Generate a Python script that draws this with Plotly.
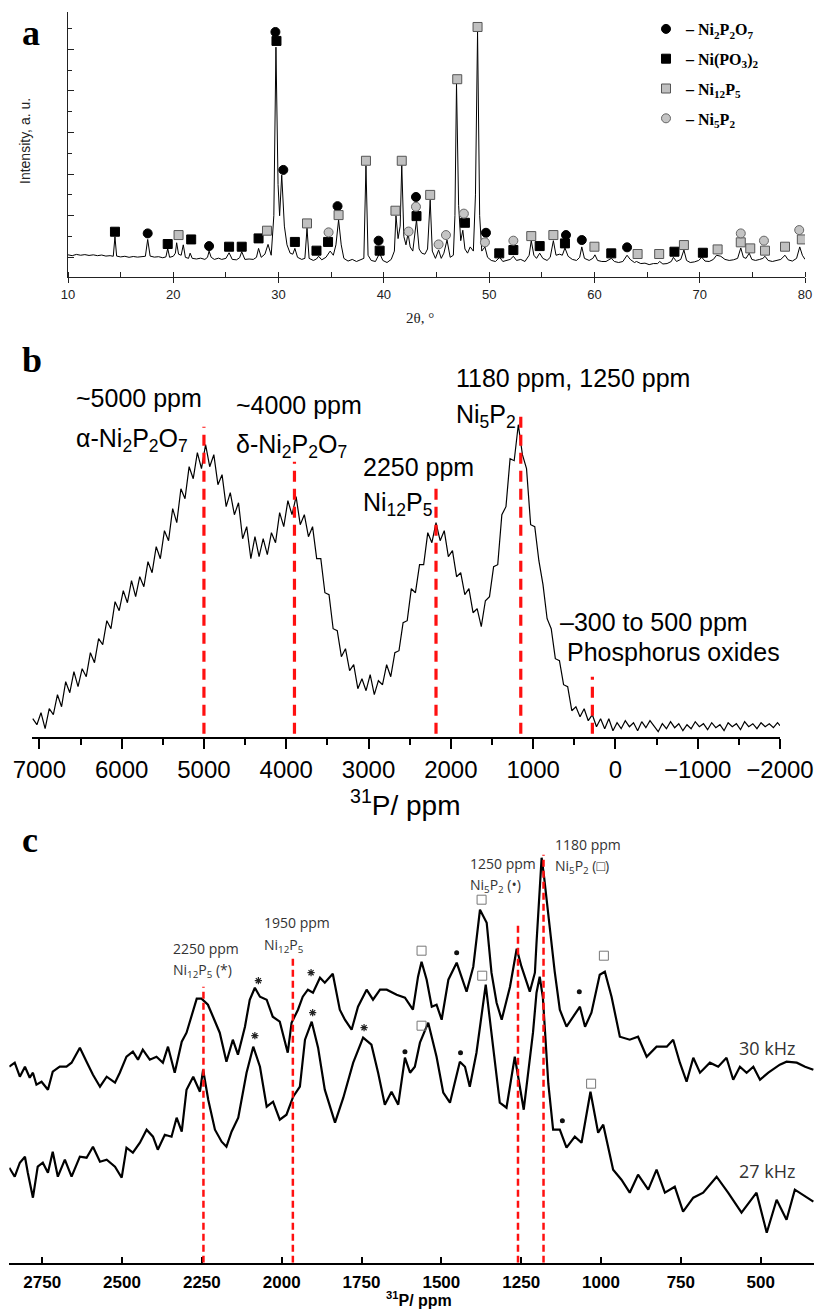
import plotly.graph_objects as go

W, H = 814, 1309

# ================= Panel a : XRD =================
xrd_2theta = [
    10.0, 10.4, 10.8, 11.2, 11.6, 12.0, 12.4, 12.8, 13.2, 13.6,
    14.0, 14.3, 14.46, 14.62, 15.0, 15.4, 15.8, 16.2, 16.6, 17.0,
    17.35, 17.57, 17.8, 18.2, 18.6, 19.0, 19.3, 19.47, 19.65, 20.0,
    20.2, 20.32, 20.5, 20.75, 20.95, 21.15, 21.45, 21.6, 21.8, 22.2,
    22.6, 23.0, 23.25, 23.4, 23.6, 23.9, 24.3, 24.6, 25.0, 25.3,
    25.6, 26.0, 26.3, 26.5, 26.8, 27.2, 27.6, 27.9, 28.1, 28.35,
    28.7, 29.0, 29.3, 29.55, 29.75, 29.95, 30.1, 30.3, 30.55, 30.8,
    31.1, 31.35, 31.55, 31.8, 32.2, 32.5, 32.7, 32.9, 33.3, 33.6,
    33.8, 34.1, 34.5, 34.9, 35.2, 35.45, 35.7, 35.95, 36.2, 36.6,
    37.0, 37.4, 37.8, 38.1, 38.3, 38.5, 38.8, 39.2, 39.6, 39.9,
    40.3, 40.7, 41.0, 41.15, 41.35, 41.55, 41.7, 41.9, 42.1, 42.3,
    42.5, 42.75, 43.1, 43.35, 43.6, 43.9, 44.15, 44.4, 44.6, 44.9,
    45.2, 45.45, 45.7, 46.0, 46.3, 46.6, 46.75, 46.9, 47.1, 47.3,
    47.5, 47.7, 47.95, 48.2, 48.5, 48.7, 48.9, 49.1, 49.3, 49.6,
    49.85, 50.2, 50.6, 51.0, 51.3, 51.7, 52.0, 52.3, 52.6, 53.0,
    53.4, 53.8, 54.0, 54.25, 54.5, 54.8, 55.1, 55.5, 55.8, 56.1,
    56.35, 56.7, 56.95, 57.2, 57.5, 57.9, 58.3, 58.6, 58.8, 59.05,
    59.5, 59.85, 60.05, 60.3, 60.7, 61.1, 61.4, 61.6, 61.9, 62.3,
    62.7, 63.1, 63.4, 63.8, 64.0, 64.4, 64.8, 65.2, 65.6, 66.0,
    66.2, 66.5, 66.9, 67.3, 67.5, 67.8, 68.2, 68.5, 68.75, 69.1,
    69.5, 69.9, 70.2, 70.5, 70.9, 71.3, 71.6, 72.0, 72.4, 72.8,
    73.2, 73.6, 73.9, 74.15, 74.4, 74.7, 74.95, 75.3, 75.7, 76.0,
    76.2, 76.5, 76.9, 77.3, 77.7, 78.1, 78.4, 78.8, 79.2, 79.5,
    79.75, 80.0,
]
xrd_intensity = [
    0.12, 0.08, 0.14, 0.10, 0.13, 0.09, 0.12, 0.08, 0.11, 0.06,
    0.08, 0.05, 0.99, 0.06, 0.02, 0.05, 0.0, 0.04, 0.01, 0.03,
    0.05, 0.86, 0.06, 0.01, 0.03, -0.02, 0.02, 0.43, 0.0, 0.05,
    0.2, 0.70, 0.15, 0.1, 0.6, 0.0, -0.05, 0.2, -0.05, -0.08,
    -0.04, -0.1, 0.0, 0.3, 0.0, -0.1, -0.04, -0.1, -0.05, 0.22,
    -0.1, -0.12, -0.02, 0.27, -0.1, -0.08, -0.1, 0.0, 0.43, 0.0,
    0.15, 0.62, 0.1, 2.0, 10.1, 3.5, 2.0, 3.95, 1.5, 0.6,
    0.2, 0.15, 0.43, 0.0, -0.1, -0.05, 1.4, -0.05, -0.15, -0.08,
    0.05, -0.12, 0.0, 0.3, 0.1, 0.6, 1.8, 0.6, -0.05, -0.18,
    -0.1, -0.2, -0.12, -0.05, 4.4, 0.1, -0.15, -0.2, 0.2, -0.15,
    -0.25, -0.1, 0.3, 2.0, 0.9, 1.5, 4.45, 1.0, 0.6, 1.15,
    0.5, 0.3, 1.8, 0.4, 0.2, 0.15, 0.4, 2.75, 0.3, -0.05,
    0.35, -0.05, 0.2, 0.83, 0.0, 0.1, 2.0, 8.35, 2.5, 0.8,
    1.3, 0.4, 0.2, 0.5, 0.3, 3.0, 10.85, 2.0, 0.3, 0.5,
    0.0, -0.15, -0.2, 0.0, -0.2, -0.15, -0.1, 0.05, -0.15, -0.1,
    -0.2, 0.1, 0.8, 0.1, -0.05, 0.2, -0.05, -0.15, 0.0, 0.8,
    0.1, 0.15, 0.1, 0.45, 0.05, -0.1, -0.15, 0.0, 0.5, -0.05,
    -0.15, -0.05, 0.12, -0.15, -0.2, -0.2, -0.1, -0.05, -0.2, -0.25,
    -0.2, 0.1, -0.1, -0.25, -0.2, -0.3, -0.28, -0.35, -0.3, -0.3,
    -0.2, -0.32, -0.3, -0.2, 0.0, -0.2, -0.1, 0.35, -0.15, -0.25,
    -0.22, -0.15, 0.0, -0.18, -0.2, -0.1, 0.1, 0.05, -0.1, -0.15,
    -0.12, -0.05, 0.45, 0.0, -0.05, 0.2, -0.1, -0.15, -0.1, -0.05,
    0.05, -0.15, -0.2, -0.15, -0.1, 0.1, -0.12, -0.18, -0.05, 0.5,
    0.1, -0.1,
]

ni2p2o7_x = [17.57, 23.4, 29.7, 30.45, 35.6, 39.5, 43.05, 49.7, 57.3, 58.8, 63.1]
ni2p2o7_y = [1.15, 0.54, 10.83, 4.2, 2.46, 0.8, 2.9, 1.18, 1.07, 0.83, 0.48]
nipo3_x = [14.46, 19.47, 21.7, 25.3, 26.5, 28.1, 29.8, 31.55, 33.6, 34.7,
           39.6, 43.1, 47.7, 50.96, 52.3, 54.8, 57.2, 61.6, 67.6, 70.3]
nipo3_y = [1.23, 0.64, 0.86, 0.51, 0.51, 0.91, 10.4, 0.74, 0.32, 0.74,
           0.32, 1.98, 1.66, 0.19, 0.35, 0.54, 0.67, 0.19, 0.27, 0.22]
ni12p5_x = [20.5, 28.9, 32.7, 35.7, 38.3, 41.1, 41.7, 44.4, 46.97, 48.9,
            54.0, 56.1, 60.0, 64.1, 66.15, 68.5, 71.7, 73.9, 74.8, 76.2,
            78.1, 79.7]
ni12p5_y = [1.07, 1.28, 1.63, 2.03, 4.64, 2.24, 4.64, 3.0, 8.56, 11.07,
            1.02, 1.07, 0.51, 0.16, 0.16, 0.59, 0.38, 0.72, 0.43, 0.32,
            0.51, 0.86]
ni5p2_x = [34.75, 42.35, 43.05, 45.2, 45.9, 47.6, 49.6, 52.3, 73.9, 76.1, 79.45]
ni5p2_y = [1.2, 1.24, 2.43, 0.62, 1.07, 2.1, 0.72, 0.8, 1.15, 0.8, 1.31]

# ================= Panel b : static 31P NMR =================
b_ppm = [
    7080, 7030, 6980, 6930, 6880, 6830, 6780, 6730, 6680, 6630,
    6580, 6530, 6480, 6430, 6380, 6330, 6280, 6230, 6180, 6130,
    6080, 6030, 5980, 5930, 5880, 5830, 5780, 5730, 5680, 5630,
    5580, 5530, 5480, 5430, 5380, 5330, 5280, 5230, 5180, 5130,
    5080, 5030, 4980, 4930, 4880, 4830, 4780, 4730, 4680, 4630,
    4580, 4530, 4480, 4430, 4380, 4330, 4280, 4230, 4180, 4130,
    4080, 4030, 3980, 3930, 3880, 3830, 3780, 3730, 3680, 3630,
    3580, 3530, 3480, 3430, 3380, 3330, 3280, 3230, 3180, 3130,
    3080, 3030, 2980, 2930, 2880, 2830, 2780, 2730, 2680, 2630,
    2580, 2530, 2480, 2430, 2380, 2330, 2280, 2230, 2180, 2130,
    2080, 2030, 1980, 1930, 1880, 1830, 1780, 1730, 1680, 1630,
    1580, 1530, 1480, 1430, 1380, 1330, 1280, 1230, 1180, 1130,
    1080, 1030, 980, 930, 880, 830, 780, 730, 680, 630,
    580, 530, 480, 430, 380, 330, 280, 230, 180, 130,
    80, 30, -20, -70, -120, -170, -220, -270, -320, -370,
    -420, -470, -520, -570, -620, -670, -720, -770, -820, -870,
    -920, -970, -1020, -1070, -1120, -1170, -1220, -1270, -1320, -1370,
    -1420, -1470, -1520, -1570, -1620, -1670, -1720, -1770, -1820, -1870,
    -1920, -1970, -2000,
]
b_intensity = [
    18, 12, 24, 8, 28, 22, 42, 30, 55, 44,
    65, 50, 68, 60, 84, 74, 98, 92, 116, 108,
    135, 126, 146, 134, 156, 140, 160, 150, 175, 164,
    190, 178, 206, 196, 228, 214, 248, 238, 270, 258,
    284, 268, 292, 270, 282, 252, 262, 230, 244, 222,
    234, 198, 210, 178, 200, 180, 198, 182, 204, 194,
    224, 210, 236, 222, 240, 212, 222, 200, 210, 178,
    178, 144, 142, 108, 106, 80, 88, 66, 72, 48,
    58, 46, 62, 42, 56, 52, 72, 60, 84, 86,
    114, 116, 148, 144, 172, 172, 204, 194, 214, 196,
    206, 180, 186, 160, 164, 142, 148, 124, 128, 110,
    136, 140, 170, 172, 222, 230, 278, 276, 312, 282,
    268, 212, 210, 176, 152, 118, 108, 78, 76, 52,
    50, 26, 30, 20, 28, 16, 22, 10, 18, 8,
    18, 6, 14, 8, 16, 10, 14, 6, 15, 9,
    16, 11, 5, 13, 8, 15, 9, 13, 6, 12,
    8, 15, 10, 13, 7, 14, 9, 12, 6, 14,
    10, 13, 7, 15, 10, 13, 8, 14, 10, 13,
    9, 14, 11,
]
b_marker_ppm = [5000, 3900, 2180, 1150, 280]
b_marker_top = [310, 275, 250, 324, 60]

# ================= Panel c : MAS 31P NMR =================
c30_ppm = [
    2853, 2836, 2820, 2804, 2789, 2779, 2768, 2752, 2732, 2717,
    2695, 2674, 2658, 2632, 2611, 2591, 2569, 2548, 2522, 2507,
    2486, 2466, 2450, 2435, 2413, 2392, 2372, 2356, 2335, 2313,
    2298, 2282, 2266, 2251, 2231, 2215, 2194, 2173, 2153, 2137,
    2115, 2100, 2084, 2068, 2047, 2028, 2006, 1981, 1969, 1949,
    1934, 1918, 1902, 1880, 1865, 1840, 1818, 1802, 1781, 1761,
    1734, 1714, 1692, 1671, 1640, 1614, 1598, 1589, 1573, 1562,
    1546, 1530, 1515, 1499, 1478, 1452, 1421, 1400, 1379, 1358,
    1343, 1327, 1311, 1285, 1264, 1249, 1223, 1207, 1202, 1194,
    1186, 1178, 1165, 1155, 1145, 1129, 1108, 1087, 1066, 1050,
    1030, 1004, 988, 967, 941, 910, 884, 857, 826, 794,
    774, 753, 732, 711, 690, 659, 633, 607, 586, 565,
    544, 523, 502, 476, 440, 419, 387, 361, 335,
]
c30_intensity = [
    196, 200, 186, 196, 185, 190, 178, 181, 173, 191,
    196, 196, 200, 215, 201, 188, 176, 186, 180, 190,
    206, 211, 203, 213, 203, 206, 200, 216, 190, 221,
    230, 246, 264, 264, 258, 246, 230, 201, 223, 208,
    236, 263, 275, 266, 263, 246, 241, 210, 240, 253,
    266, 273, 270, 285, 280, 289, 253, 243, 233, 256,
    273, 263, 273, 273, 268, 265, 258, 253, 286, 301,
    283, 256, 258, 243, 283, 300, 271, 296, 353, 340,
    290, 260, 243, 276, 314, 296, 271, 290, 320, 365,
    405, 385, 346, 318, 291, 253, 236, 246, 256, 236,
    250, 288, 291, 266, 226, 223, 226, 206, 216, 216,
    223, 200, 181, 205, 190, 200, 196, 205, 183, 196,
    190, 196, 183, 190, 198, 201, 200, 196, 193,
]
c27_ppm = [
    2853, 2836, 2820, 2804, 2795, 2779, 2764, 2748, 2732, 2717,
    2701, 2679, 2658, 2632, 2611, 2591, 2569, 2548, 2522, 2501,
    2486, 2466, 2444, 2423, 2403, 2388, 2366, 2345, 2329, 2313,
    2298, 2277, 2256, 2246, 2230, 2209, 2188, 2173, 2157, 2136,
    2110, 2089, 2068, 2047, 2027, 2006, 1985, 1964, 1943, 1927,
    1906, 1886, 1865, 1833, 1807, 1776, 1745, 1719, 1698, 1677,
    1656, 1635, 1614, 1598, 1583, 1567, 1541, 1515, 1494, 1473,
    1458, 1442, 1426, 1411, 1390, 1361, 1338, 1317, 1296, 1270,
    1242, 1213, 1202, 1192, 1182, 1172, 1165, 1150, 1129, 1108,
    1082, 1061, 1033, 1009, 993, 962, 936, 910, 884, 852,
    826, 800, 769, 743, 711, 680, 638, 602, 560, 513,
    481, 450, 419, 393, 361, 335,
]
c27_intensity = [
    95, 86, 100, 106, 90, 65, 96, 100, 90, 111,
    86, 103, 86, 106, 105, 116, 101, 103, 96, 85,
    115, 110, 120, 133, 126, 113, 128, 126, 145, 131,
    173, 186, 171, 193, 163, 133, 121, 116, 131, 145,
    190, 216, 196, 156, 161, 143, 148, 166, 176, 223,
    241, 215, 173, 140, 165, 200, 225, 218, 190, 158,
    171, 158, 205, 190, 196, 220, 240, 206, 170, 160,
    180, 201, 196, 176, 210, 278, 216, 160, 155, 206,
    153, 230, 270, 286, 265, 215, 179, 133, 133, 115,
    126, 120, 171, 130, 138, 93, 83, 70, 88, 73,
    93, 70, 76, 51, 65, 70, 86, 70, 50, 70,
    30, 63, 43, 73, 66, 61,
]
c_star_ppm = [2073, 1908, 2084, 1903, 1742]
c_star_int = [282, 290, 227, 250, 235]
c_dot_ppm = [1452, 1068, 1614, 1440, 1121]
c_dot_int = [310, 271, 211, 210, 142]
c_square_ppm = [1562, 1374, 991, 1562, 1372, 1031]
c_square_int = [312, 363, 307, 237, 287, 179]
c_marker_ppm = [2245, 1965, 1260, 1180]
c_marker_top = [276, 306, 337, 408]


def px(x):
    return x / W


def py(y):
    return 1 - y / H


fig = go.Figure()

# ---- panel a traces ----
fig.add_trace(go.Scatter(x=xrd_2theta, y=xrd_intensity, mode="lines",
                         line=dict(color="black", width=1), xaxis="x", yaxis="y",
                         showlegend=False, hoverinfo="skip"))
phase_defs = [
    (ni2p2o7_x, ni2p2o7_y, "circle", "black", "black",
     "<b>– Ni<sub>2</sub>P<sub>2</sub>O<sub>7</sub></b>"),
    (nipo3_x, nipo3_y, "square", "black", "black",
     "<b>– Ni(PO<sub>3</sub>)<sub>2</sub></b>"),
    (ni12p5_x, ni12p5_y, "square", "#c0c0c0", "#555555",
     "<b>– Ni<sub>12</sub>P<sub>5</sub></b>"),
    (ni5p2_x, ni5p2_y, "circle", "#c4c4c4", "#666666",
     "<b>– Ni<sub>5</sub>P<sub>2</sub></b>"),
]
for i, (xs, ys, sym, fc, lc, name) in enumerate(phase_defs):
    fig.add_trace(go.Scatter(x=xs, y=ys, mode="markers", name=name,
                             legendgroup=f"g{i}",
                             marker=dict(symbol=sym, size=9, color=fc,
                                         line=dict(color=lc, width=1)),
                             xaxis="x", yaxis="y"))

# ---- panel b trace ----
fig.add_trace(go.Scatter(x=b_ppm, y=b_intensity, mode="lines",
                         line=dict(color="black", width=1.2), xaxis="x2", yaxis="y2",
                         showlegend=False, hoverinfo="skip"))

# ---- panel c traces ----
fig.add_trace(go.Scatter(x=c30_ppm, y=c30_intensity, mode="lines",
                         line=dict(color="black", width=2.2), xaxis="x3", yaxis="y3",
                         showlegend=False, hoverinfo="skip"))
fig.add_trace(go.Scatter(x=c27_ppm, y=c27_intensity, mode="lines",
                         line=dict(color="black", width=2.2), xaxis="x3", yaxis="y3",
                         showlegend=False, hoverinfo="skip"))
fig.add_trace(go.Scatter(x=c_star_ppm, y=c_star_int, mode="markers",
                         marker=dict(symbol="asterisk-open", size=6, color="#222",
                                     line=dict(color="#222", width=1.2)),
                         xaxis="x3", yaxis="y3", showlegend=False))
fig.add_trace(go.Scatter(x=c_dot_ppm, y=c_dot_int, mode="markers",
                         marker=dict(symbol="circle", size=5, color="#111"),
                         xaxis="x3", yaxis="y3", showlegend=False))
fig.add_trace(go.Scatter(x=c_square_ppm, y=c_square_int, mode="markers",
                         marker=dict(symbol="square-open", size=9, color="#777",
                                     line=dict(color="#777", width=1)),
                         xaxis="x3", yaxis="y3", showlegend=False))

shapes = []
for xv, top in zip(b_marker_ppm, b_marker_top):
    shapes.append(dict(type="line", xref="x2", yref="y2", x0=xv, x1=xv, y0=3, y1=top,
                       line=dict(color="#ff1010", width=3.2, dash="11px,7px")))
for xv, top in zip(c_marker_ppm, c_marker_top):
    shapes.append(dict(type="line", xref="x3", yref="y3", x0=xv, x1=xv, y0=0, y1=top,
                       line=dict(color="#ff1010", width=2.5, dash="7px,4px")))

annotations = []


def ann(text, x, y, size, family="Liberation Sans", color="black",
        xanchor="left", yanchor="middle", angle=0):
    annotations.append(dict(text=text, x=px(x), y=py(y), xref="paper", yref="paper",
                            showarrow=False, xanchor=xanchor, yanchor=yanchor,
                            textangle=angle, borderpad=0,
                            font=dict(family=family, size=size, color=color)))


# panel letters
ann("<b>a</b>", 31, 33, 36, "Liberation Serif", xanchor="center")
ann("<b>b</b>", 32, 360, 36, "Liberation Serif", xanchor="center")
ann("<b>c</b>", 30, 840, 36, "Liberation Serif", xanchor="center")

# panel a titles
ann("Intensity, a. u.", 25, 141, 14, color="#222", xanchor="center", angle=-90)
ann("2θ, °", 420, 318, 15, "Liberation Serif", color="#222", xanchor="center")

# panel b labels
ann("~5000 ppm", 75, 398, 25)
ann("α-Ni<sub>2</sub>P<sub>2</sub>O<sub>7</sub>", 75, 440, 25)
ann("~4000 ppm", 235, 405, 25)
ann("δ-Ni<sub>2</sub>P<sub>2</sub>O<sub>7</sub>", 235, 446, 25)
ann("2250 ppm", 362, 467, 25)
ann("Ni<sub>12</sub>P<sub>5</sub>", 362, 504, 25)
ann("1180 ppm, 1250 ppm", 455, 378, 25)
ann("Ni<sub>5</sub>P<sub>2</sub>", 455, 416, 25)
ann("–300 to 500 ppm", 559, 622, 25)
ann("Phosphorus oxides", 566, 652, 25)
ann("<sup>31</sup>P/ ppm", 405, 803, 28, xanchor="center")

# panel c labels
cf = "Open Sans"
cc = "#333333"
ann("2250 ppm", 172, 948, 14, cf, cc)
ann("Ni<sub>12</sub>P<sub>5</sub> (*)", 172, 970, 14, cf, cc)
ann("1950 ppm", 263, 923, 14, cf, cc)
ann("Ni<sub>12</sub>P<sub>5</sub>", 263, 945, 14, cf, cc)
ann("1250 ppm", 469, 863, 14, cf, cc)
ann("Ni<sub>5</sub>P<sub>2</sub> (•)", 469, 885, 14, cf, cc)
ann("1180 ppm", 554, 844, 14, cf, cc)
ann("Ni<sub>5</sub>P<sub>2</sub> (□)", 554, 866, 14, cf, cc)
ann("30 kHz", 738, 1048, 18, cf, cc)
ann("27 kHz", 738, 1171, 18, cf, cc)
ann("<b><sup>31</sup>P/ ppm</b>", 419, 1299, 16, xanchor="center")

fig.update_layout(
    width=W, height=H,
    margin=dict(l=0, r=0, t=0, b=0, autoexpand=False),
    paper_bgcolor="white", plot_bgcolor="white",
    showlegend=True,
    legend=dict(x=px(646), y=py(12), xanchor="left", yanchor="top",
                font=dict(family="Liberation Serif", size=16, color="black"),
                bgcolor="rgba(0,0,0,0)", tracegroupgap=6),
    xaxis=dict(domain=[px(68), px(805)], range=[10, 80], anchor="y",
               showline=True, linecolor="#222", linewidth=1.2,
               ticks="outside", ticklen=5, tickwidth=1, tickcolor="#222",
               tick0=10, dtick=10, showgrid=False, zeroline=False,
               tickfont=dict(family="Liberation Sans", size=13, color="#222"),
               ticklabelstandoff=0,
               minor=dict(dtick=5, ticks="inside", ticklen=5, tickcolor="#222",
                          tickwidth=1, showgrid=False)),
    yaxis=dict(domain=[py(277.3), py(12)], range=[-0.96, 11.79], anchor="x",
               showline=True, linecolor="#222", linewidth=1.2,
               ticks="inside", ticklen=6, tickwidth=1, tickcolor="#222",
               tick0=0, dtick=2, showticklabels=False, showgrid=False,
               zeroline=False,
               minor=dict(dtick=1, ticks="inside", ticklen=4, tickcolor="#222",
                          tickwidth=1, showgrid=False)),
    xaxis2=dict(domain=[px(31.7), px(780)], range=[7093, -2000], anchor="y2",
                showline=True, linecolor="black", linewidth=1.6,
                ticks="outside", ticklen=10, tickwidth=1.6, tickcolor="black",
                tick0=0, dtick=1000, showgrid=False, zeroline=False,
                tickfont=dict(family="Liberation Sans", size=24, color="black"),
                ticklabelstandoff=1,
                minor=dict(dtick=500, ticks="outside", ticklen=6, tickcolor="black",
                           tickwidth=1.6, showgrid=False)),
    yaxis2=dict(domain=[py(736.7), py(360)], range=[0, 376.7], anchor="x2",
                visible=False),
    xaxis3=dict(domain=[px(9.3), 1.0], range=[2853, 333], anchor="y3",
                showline=True, linecolor="black", linewidth=2,
                ticks="inside", ticklen=6, tickwidth=2, tickcolor="black",
                tick0=0, dtick=250, showgrid=False, zeroline=False,
                tickfont=dict(family="Liberation Sans", size=17, color="black",
                              weight="bold"),
                ticklabelstandoff=3),
    yaxis3=dict(domain=[py(1262.7), py(830)], range=[0, 432.7], anchor="x3",
                visible=False),
    shapes=shapes,
    annotations=annotations,
)

fig.write_html("out.html", config={"displayModeBar": False},
               post_script="document.body.style.margin='0';")
